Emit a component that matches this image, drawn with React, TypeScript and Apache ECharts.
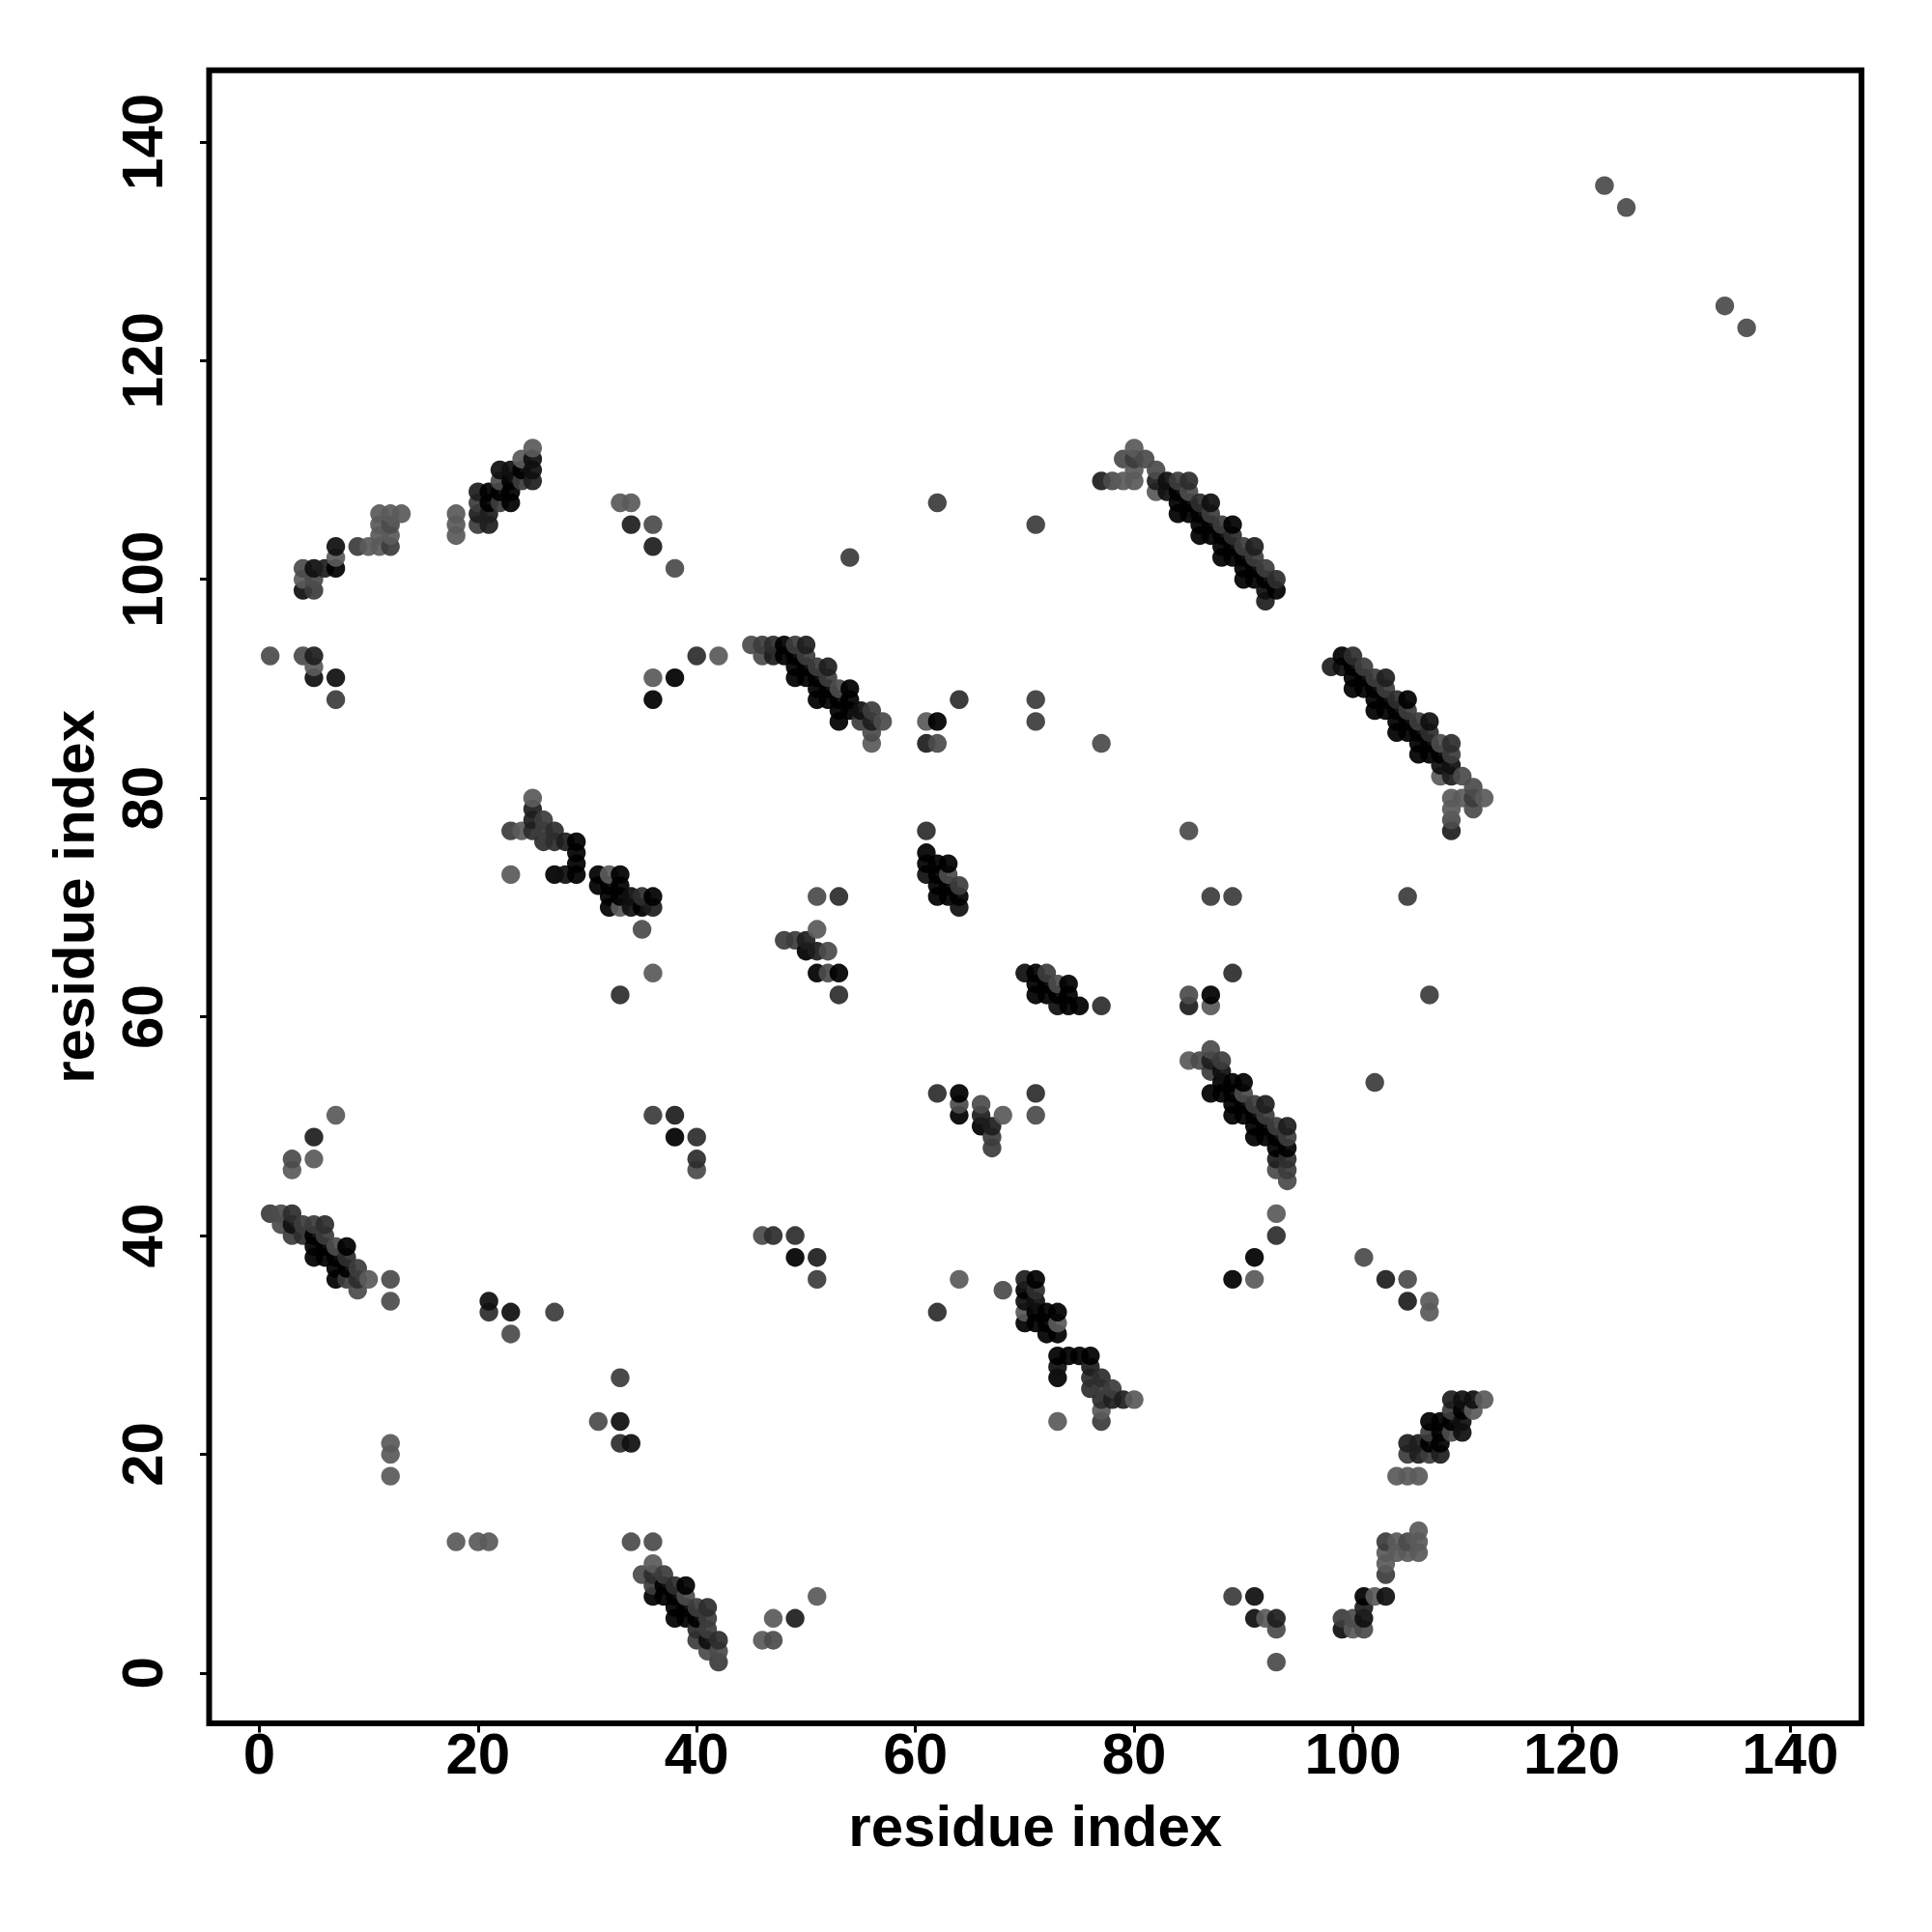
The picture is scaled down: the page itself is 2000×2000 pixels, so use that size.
import React, { useEffect, useRef } from "react";
import * as echarts from "echarts";

type Contact = [number, number, number];

const tickValues = [0, 20, 40, 60, 80, 100, 120, 140];
const axisTitle = "residue index";

// each contact: residue a, residue b, shade level (0 darkest .. 6 lightest)
const nTermHairpin: Contact[] = [
  [1,42,4],[2,42,5],[3,42,3],[2,41,5],[3,41,1],[4,41,4],[5,41,4],[6,41,3],[3,40,4],[4,40,3],[5,40,0],[6,40,4],
  [5,39,0],[6,39,0],[7,39,5],[8,39,0],[5,38,0],[6,38,0],[7,38,0],[8,38,3],[7,37,0],[8,37,0],[9,37,4],
  [7,36,0],[8,36,4],[9,36,3],[10,36,6],[9,35,5],[3,47,5],[3,46,6],[5,47,6],[5,49,2],[7,51,6],
];
const strandEnds: Contact[] = [
  [12,36,5],[12,34,5],[21,34,1],[21,33,3],[23,33,1],[23,31,5],[27,33,4],[12,21,6],[12,20,6],[12,18,6],
];
const contactsLowSeq: Contact[] = [
  [1,93,5],[4,93,5],[5,93,2],[5,92,6],[5,91,1],[7,91,1],[7,89,4],
  [7,103,1],[7,102,6],[7,101,0],[6,101,2],[5,101,1],[4,101,5],[4,100,6],[5,100,5],[4,99,1],[5,99,4],
  [9,103,4],[10,103,6],[11,103,6],[12,103,4],[11,104,6],[12,104,6],[11,105,6],[12,105,5],[11,106,6],[12,106,6],[13,106,6],
  [18,106,6],[18,105,6],[18,104,6],
];
const betaB: Contact[] = [
  [25,112,6],[24,111,6],[25,111,1],[25,110,1],[25,109,2],[24,110,0],[24,109,4],[23,110,1],[22,110,1],
  [23,109,0],[22,109,5],[23,108,0],[22,108,0],[21,108,0],[20,108,2],[23,107,0],[22,107,4],[21,107,0],[20,107,4],
  [21,106,2],[20,106,2],[21,105,2],[20,105,4],
];
const looseLowSeq: Contact[] = [
  [33,107,6],[34,107,6],[34,105,2],[36,105,5],[36,103,2],[38,101,5],[36,91,6],[36,89,0],[38,91,0],[40,93,3],[42,93,6],
  [36,51,4],[38,51,2],[38,49,0],[40,49,3],[40,47,3],[40,46,5],
];
const helixC: Contact[] = [
  [25,80,6],[25,79,2],[25,78,2],[26,78,4],[23,77,4],[24,77,6],[25,77,3],[26,77,4],[27,77,3],[26,76,3],[27,76,3],[28,76,2],
  [29,76,0],[29,75,0],[29,74,0],[29,73,0],[28,73,1],[27,73,0],[23,73,6],[31,73,0],[32,73,6],[33,73,0],[31,72,0],[32,72,0],[33,72,0],
  [32,71,0],[33,71,0],[34,71,1],[35,71,3],[36,71,0],[32,70,0],[33,70,6],[34,70,1],[35,70,0],[36,70,2],[35,68,5],[36,64,6],[33,62,3],
];
const helixD: Contact[] = [
  [45,94,5],[46,94,4],[47,94,3],[48,94,0],[49,94,4],[50,94,2],[46,93,5],[47,93,2],[48,93,0],[49,93,0],[50,93,4],
  [49,92,0],[50,92,0],[51,92,4],[52,92,2],[49,91,0],[50,91,0],[51,91,0],[52,91,4],[51,90,0],[52,90,0],[53,90,5],[54,90,0],
  [51,89,0],[52,89,0],[53,89,0],[54,89,0],[53,88,0],[54,88,0],[55,88,1],[56,88,4],[53,87,0],[55,87,4],[56,87,2],[57,87,5],[56,86,5],[56,85,6],
];
const looseMidSeq: Contact[] = [
  [62,107,4],[71,105,4],[54,102,4],[61,87,6],[62,87,0],[61,85,2],[62,85,5],[64,89,3],[71,89,4],[71,87,4],[77,85,5],
  [85,62,6],[87,62,0],[85,61,2],[87,61,6],[87,71,5],[89,71,4],[89,64,4],[105,71,4],[107,62,4],[102,54,4],
  [51,71,5],[53,71,3],[51,68,6],[48,67,4],[49,67,4],[50,67,2],[50,66,0],[51,66,2],[52,66,5],[51,64,0],[52,64,5],[53,64,0],[53,62,3],
  [93,42,6],[93,40,3],[101,38,5],[103,36,2],[105,36,5],[105,34,2],[107,34,6],[107,33,6],[77,61,3],
];
const helixE: Contact[] = [
  [61,77,2],[61,75,0],[61,74,0],[61,73,1],[62,74,0],[63,74,0],[62,73,0],[63,73,5],[62,72,0],[63,72,0],[64,72,4],
  [62,71,0],[63,71,0],[64,71,0],[64,70,1],[71,64,0],[72,64,4],[71,63,0],[72,63,0],[73,63,5],[74,63,0],
  [71,62,0],[72,62,0],[73,62,0],[74,62,0],[73,61,0],[74,61,0],[75,61,1],[70,64,1],
];
const helixF: Contact[] = [
  [85,56,6],[86,56,6],[87,57,6],[87,56,2],[88,56,5],[87,55,4],[88,55,1],[88,54,1],[89,54,1],[90,54,0],[87,53,0],[88,53,1],[89,53,0],[90,53,5],
  [89,52,0],[90,52,0],[91,52,5],[92,52,2],[89,51,0],[90,51,0],[91,51,0],[92,51,4],[91,50,0],[92,50,0],[93,50,4],[94,50,2],
  [91,49,0],[92,49,0],[93,49,0],[94,49,4],[93,48,1],[94,48,0],[93,47,2],[94,47,3],[93,46,5],[94,46,5],[94,45,5],
  [91,38,0],[89,36,0],[91,36,6],
];
const helixG: Contact[] = [
  [99,93,0],[100,93,3],[98,92,2],[99,92,1],[100,92,0],[101,92,4],[100,91,0],[101,91,0],[102,91,4],[103,91,2],
  [100,90,0],[101,90,0],[102,90,0],[103,90,4],[102,89,0],[103,89,0],[104,89,3],[105,89,0],[102,88,0],[103,88,0],[104,88,0],[105,88,4],
  [104,87,0],[105,87,0],[106,87,4],[107,87,1],[104,86,0],[105,86,0],[106,86,0],[107,86,3],[106,85,0],[107,85,0],[108,85,5],[109,85,3],
  [106,84,0],[107,84,0],[108,84,0],[109,84,4],[108,83,1],[109,83,1],[108,82,6],[109,82,2],[110,82,5],[111,81,5],
  [109,80,6],[110,80,6],[111,80,4],[112,80,6],[111,79,5],[109,79,6],[109,78,5],[109,77,2],
];
const helixH: Contact[] = [
  [70,36,2],[71,36,0],[70,35,0],[71,35,3],[70,34,1],[71,34,1],[71,33,0],[72,33,0],[73,33,0],[70,32,0],[71,32,0],[72,32,0],[72,31,0],[73,31,0],
  [74,29,0],[75,29,0],[76,29,0],[73,29,0],[73,28,1],[73,27,0],[76,28,2],[76,27,2],[77,27,3],[76,26,3],[77,26,4],[78,26,4],
  [77,25,3],[78,25,1],[79,25,3],[80,25,6],[77,24,6],
];
const looseSheet: Contact[] = [
  [62,53,3],[64,53,1],[64,52,5],[64,51,1],[66,52,5],[66,51,3],[67,50,2],[68,51,6],[67,49,4],[67,48,3],[71,53,3],[71,51,5],
  [123,136,5],[125,134,5],
];

const contactGroups = [
  nTermHairpin, strandEnds, contactsLowSeq, betaB, looseLowSeq, helixC, helixD,
  looseMidSeq, helixE, helixF, helixG, helixH, looseSheet,
];

function buildPoints(): Contact[] {
  const seen = new Map<string, Contact>();
  for (const group of contactGroups) {
    for (const [a, b, level] of group) {
      const key = `${Math.min(a, b)}-${Math.max(a, b)}`;
      if (!seen.has(key)) seen.set(key, [a, b, level]);
    }
  }
  const pts: Contact[] = [];
  seen.forEach(([a, b, level]) => {
    pts.push([a, b, level]);
    pts.push([b, a, level]);
  });
  return pts.sort((p, q) => p[0] - q[0] || p[1] - q[1]);
}

const FONT = "Liberation Sans";

export default function App() {
  const ref = useRef<HTMLDivElement>(null);
  useEffect(() => {
    const chart = echarts.init(ref.current!, null, { renderer: "svg" });
    const labelStyle = { fontFamily: FONT, fontWeight: "bold" as const, fontSize: 60, color: "#000" };
    const tick = { show: true, length: 9.5, lineStyle: { color: "#000", width: 3 }, customValues: tickValues };
    chart.setOption({
      animation: false,
      backgroundColor: "#fff",
      grid: {
        show: true, left: 216.5, top: 72.7, width: 1710.5, height: 1711.3,
        borderColor: "#000", borderWidth: 6, backgroundColor: "transparent", containLabel: false,
      },
      xAxis: {
        type: "value", min: -4.58, max: 146.5,
        name: axisTitle, nameLocation: "middle", nameGap: 76,
        nameTextStyle: labelStyle,
        splitLine: { show: false }, axisLine: { show: false, onZero: false }, axisTick: tick,
        axisLabel: { ...labelStyle, margin: 1, customValues: tickValues, hideOverlap: false, showMinLabel: true, showMaxLabel: true },
      },
      yAxis: {
        type: "value", min: -4.6, max: 146.55,
        name: axisTitle, nameLocation: "middle", nameGap: 110, nameRotate: 90,
        nameTextStyle: labelStyle,
        splitLine: { show: false }, axisLine: { show: false, onZero: false }, axisTick: tick,
        axisLabel: { ...labelStyle, rotate: 90, margin: 39, customValues: tickValues, align: "center", hideOverlap: false, showMinLabel: true, showMaxLabel: true },
      },
      series: [{
        type: "scatter",
        symbol: "circle",
        symbolSize: 19.4,
        silent: true,
        data: buildPoints(),
        itemStyle: {
          opacity: 0.93,
          color: (p: any) => {
            const g = Math.round(p.value[2] * 15);
            return `rgb(${g},${g},${g})`;
          },
        },
      }],
    });
    return () => chart.dispose();
  }, []);
  return <div ref={ref} style={{ position: "absolute", left: 0, top: 0, width: 2000, height: 2000 }} />;
}
